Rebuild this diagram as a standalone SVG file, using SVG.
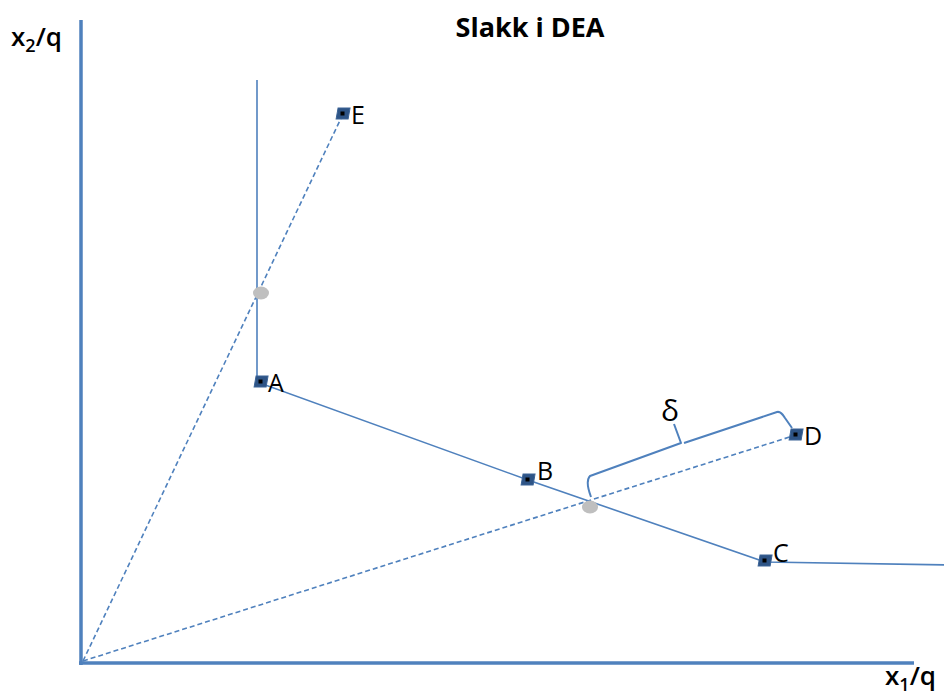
<svg xmlns="http://www.w3.org/2000/svg" width="944" height="695" viewBox="0 0 944 695">
  <style>
    .axis { stroke: #4F81BD; stroke-width: 3.5; fill: none; }
    .line { stroke: #4F81BD; stroke-width: 1.6; fill: none; }
    .dash { stroke: #4F81BD; stroke-width: 1.6; fill: none; stroke-dasharray: 5 3; }
    .brace { stroke: #4F81BD; stroke-width: 2; fill: none; stroke-linejoin: round; }
    .lbl { font-family: "Open Sans", "Liberation Sans", sans-serif; font-size: 25px; font-weight: 500; fill: #000; }
    .axlbl { font-family: "Open Sans", "Liberation Sans", sans-serif; font-size: 26px; font-weight: 600; fill: #000; }
    .title { font-family: "Open Sans", "Liberation Sans", sans-serif; font-size: 27px; font-weight: bold; fill: #000; }
    .pt { fill: #2E5486; stroke: #3A6396; stroke-width: 1; }
    .dot { fill: #000; }
    .proj { fill: #BFBFBF; }
  </style>
  <defs>
    <g id="mark">
      <rect class="pt" x="-6" y="-6" width="12" height="11" transform="skewX(-10)"/>
      <rect class="dot" x="-2.5" y="-2.5" width="4" height="4"/>
    </g>
  </defs>
  <rect width="944" height="695" fill="#fff"/>

  <text class="title" x="530" y="37" text-anchor="middle">Slakk i DEA</text>

  <g id="connectors">
    <!-- axes -->
    <line class="axis" x1="81" y1="20" x2="81" y2="665"/>
    <line class="axis" x1="79" y1="663" x2="914" y2="663"/>
    <!-- frontier -->
    <polyline class="line" points="257,80 257,382 528,480 765,562 952,565"/>
    <!-- rays from origin -->
    <line class="dash" x1="83" y1="661" x2="343" y2="114"/>
    <line class="dash" x1="83" y1="661" x2="796" y2="435"/>
    <!-- brace for slack -->
    <path class="brace" d="M591,497 Q585,481 590,476 L681,443 L674,424 M684,443 L777,412 Q781,411 785,418 L792,428"/>
  </g>

  <g id="proj1"><ellipse class="proj" cx="261" cy="293" rx="8" ry="6.5"/></g>
  <g id="proj2"><ellipse class="proj" cx="590" cy="507" rx="8" ry="6.5"/></g>

  <g id="E"><use href="#mark" x="343" y="114"/><text class="lbl" x="351" y="124">E</text></g>
  <g id="A"><use href="#mark" x="261" y="382"/><text class="lbl" x="268" y="392">A</text></g>
  <g id="B"><use href="#mark" x="528" y="480"/><text class="lbl" x="537" y="480">B</text></g>
  <g id="C"><use href="#mark" x="765" y="561"/><text class="lbl" x="773" y="562">C</text></g>
  <g id="D"><use href="#mark" x="796" y="435"/><text class="lbl" x="804" y="445">D</text></g>

  <text class="lbl" x="670" y="421" text-anchor="middle" style="font-size:30px">δ</text>

  <text class="axlbl" x="11" y="46">x<tspan font-size="18" dy="6">2</tspan><tspan dy="-6">/q</tspan></text>
  <text class="axlbl" x="885" y="685">x<tspan font-size="18" dy="6">1</tspan><tspan dy="-6">/q</tspan></text>
</svg>
